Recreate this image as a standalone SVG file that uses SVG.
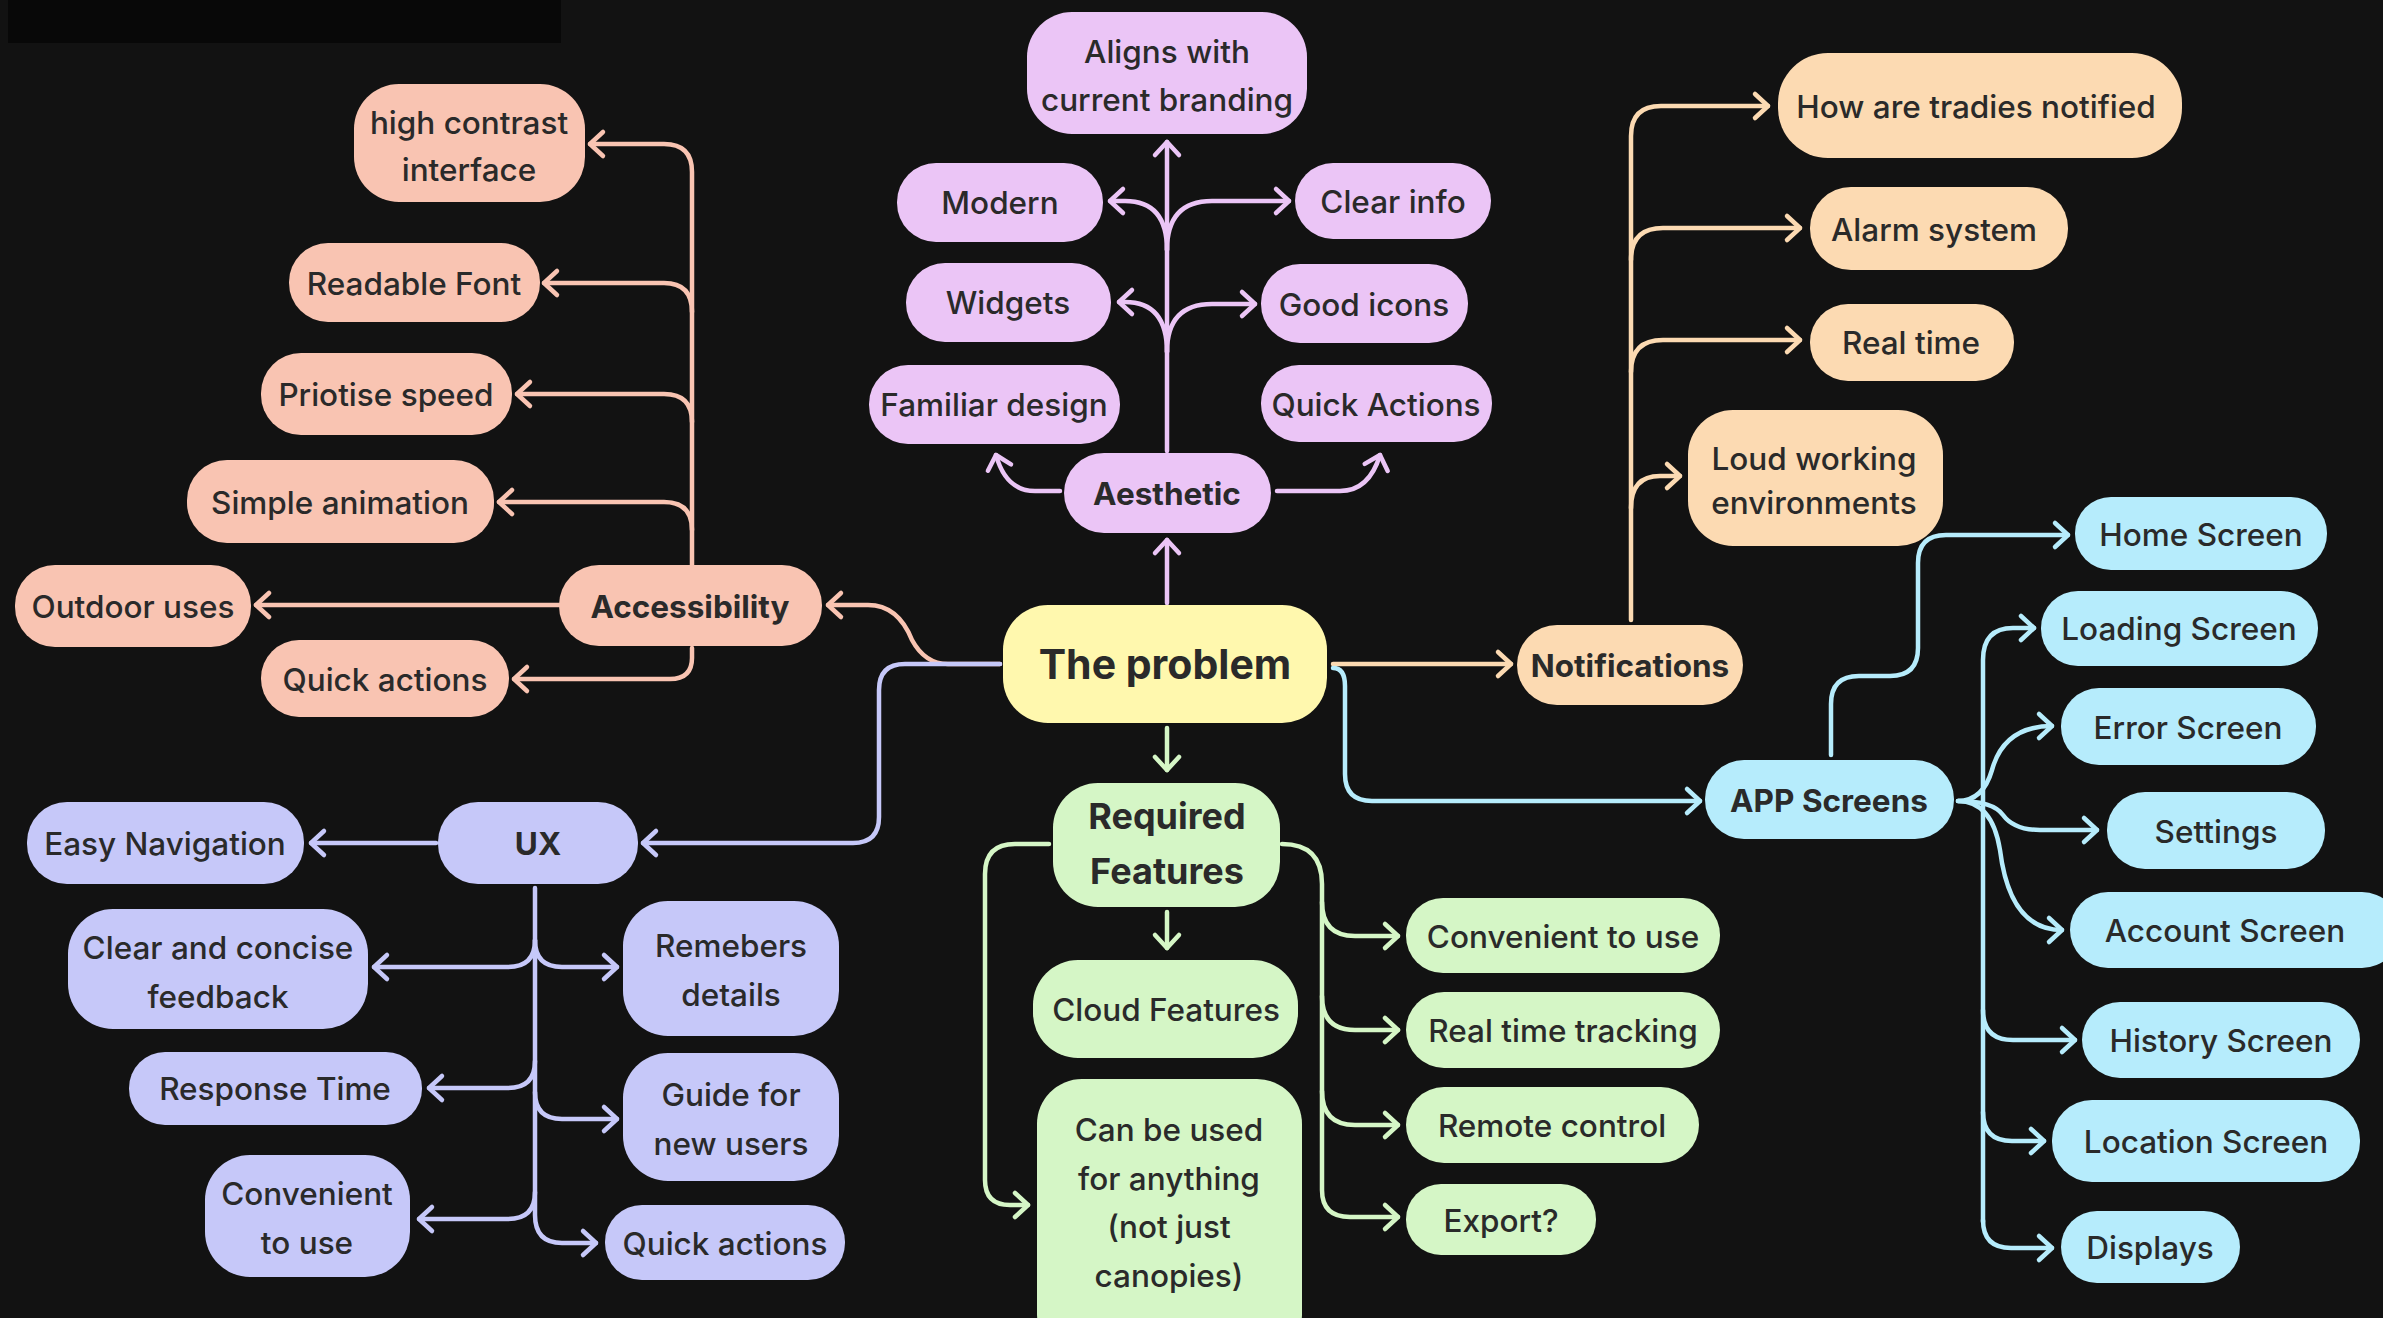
<svg xmlns="http://www.w3.org/2000/svg" width="2383" height="1318" viewBox="0 0 2383 1318">
<defs>
<style>
text{font-family:Inter,"Noto Sans","Liberation Sans",sans-serif;font-size:31.5px;font-weight:500;fill:#2a2a2a;text-anchor:middle;dominant-baseline:central}
.b{font-weight:700}
.rf{font-size:36px;font-weight:700}
.big{font-size:41px;font-weight:700}
.c{fill:none;stroke-width:4.5;stroke-linecap:round;stroke-linejoin:round}
.acc{fill:#F9C4B2}.aes{fill:#EBC5F6}.not{fill:#FCDAB2}.app{fill:#B6ECFC}.req{fill:#D5F6C6}.ux{fill:#C6C8F9}.pb{fill:#FFF8AE}
.sa{stroke:#F9C4B2;marker-end:url(#ma)}.se{stroke:#EBC5F6;marker-end:url(#me)}.sn{stroke:#FCDAB2;marker-end:url(#mn)}
.sp{stroke:#B6ECFC;marker-end:url(#mp)}.sr{stroke:#D5F6C6;marker-end:url(#mr)}.su{stroke:#C6C8F9;marker-end:url(#mu)}
</style>
<marker id="ma" markerUnits="userSpaceOnUse" markerWidth="30" markerHeight="30" viewBox="0 0 30 30" refX="26" refY="15" orient="auto" overflow="visible"><path d="M13,3 L26,15 L13,27" fill="none" stroke="#F9C4B2" stroke-width="4.5" stroke-linecap="round" stroke-linejoin="round"/></marker>
<marker id="me" markerUnits="userSpaceOnUse" markerWidth="30" markerHeight="30" viewBox="0 0 30 30" refX="26" refY="15" orient="auto" overflow="visible"><path d="M13,3 L26,15 L13,27" fill="none" stroke="#EBC5F6" stroke-width="4.5" stroke-linecap="round" stroke-linejoin="round"/></marker>
<marker id="mn" markerUnits="userSpaceOnUse" markerWidth="30" markerHeight="30" viewBox="0 0 30 30" refX="26" refY="15" orient="auto" overflow="visible"><path d="M13,3 L26,15 L13,27" fill="none" stroke="#FCDAB2" stroke-width="4.5" stroke-linecap="round" stroke-linejoin="round"/></marker>
<marker id="mp" markerUnits="userSpaceOnUse" markerWidth="30" markerHeight="30" viewBox="0 0 30 30" refX="26" refY="15" orient="auto" overflow="visible"><path d="M13,3 L26,15 L13,27" fill="none" stroke="#B6ECFC" stroke-width="4.5" stroke-linecap="round" stroke-linejoin="round"/></marker>
<marker id="mr" markerUnits="userSpaceOnUse" markerWidth="30" markerHeight="30" viewBox="0 0 30 30" refX="26" refY="15" orient="auto" overflow="visible"><path d="M13,3 L26,15 L13,27" fill="none" stroke="#D5F6C6" stroke-width="4.5" stroke-linecap="round" stroke-linejoin="round"/></marker>
<marker id="mu" markerUnits="userSpaceOnUse" markerWidth="30" markerHeight="30" viewBox="0 0 30 30" refX="26" refY="15" orient="auto" overflow="visible"><path d="M13,3 L26,15 L13,27" fill="none" stroke="#C6C8F9" stroke-width="4.5" stroke-linecap="round" stroke-linejoin="round"/></marker>
</defs>
<rect width="2383" height="1318" fill="#121212"/>
<rect x="8" y="0" width="553" height="43" fill="#080808"/>

<g id="connectors">
<!-- Accessibility -->
<path class="c sa" d="M692,565 L692,172 Q692,144 664,144 L590,144"/>
<path class="c sa" d="M692,312 Q692,283 664,283 L544,283"/>
<path class="c sa" d="M692,422 Q692,394 664,394 L517,394"/>
<path class="c sa" d="M692,530 Q692,502 664,502 L499,502"/>
<path class="c sa" d="M559,605 L256,605"/>
<path class="c sa" d="M692,648 L692,658 Q692,679 670,679 L514,679"/>
<path class="c sa" d="M1000,664 L948,664 Q925,664 912,640 Q898,605 868,605 L828,605"/>
<!-- UX -->
<path class="c su" d="M1000,664 L905,664 Q879,664 879,690 L879,817 Q879,843 853,843 L643,843"/>
<path class="c su" d="M436,843 L311,843"/>
<path class="c su" d="M535,888 L535,1215 Q535,1243 562,1243 L596,1243"/>
<path class="c su" d="M535,940 Q535,967 508,967 L374,967"/>
<path class="c su" d="M535,940 Q535,967 562,967 L617,967"/>
<path class="c su" d="M535,1061 Q535,1088 508,1088 L429,1088"/>
<path class="c su" d="M535,1092 Q535,1119 562,1119 L617,1119"/>
<path class="c su" d="M535,1192 Q535,1219 508,1219 L419,1219"/>
<!-- Aesthetic -->
<path class="c se" d="M1167,603 L1167,540"/>
<path class="c se" d="M1167,451 L1167,142"/>
<path class="c se" d="M1167,250 Q1167,201 1125,201 L1110,201"/>
<path class="c se" d="M1167,250 Q1167,201 1212,201 L1289,201"/>
<path class="c se" d="M1167,352 Q1167,302 1125,302 L1119,302"/>
<path class="c se" d="M1167,352 Q1167,304 1212,304 L1255,304"/>
<path class="c se" d="M1060,491 L1035,491 Q1006,491 996,455"/>
<path class="c se" d="M1277,491 L1340,491 Q1369,491 1380,455"/>
<!-- Notifications -->
<path class="c sn" d="M1333,664 L1511,664"/>
<path class="c sn" d="M1631,620 L1631,136 Q1631,106 1661,106 L1768,106"/>
<path class="c sn" d="M1631,260 Q1631,228 1663,228 L1800,228"/>
<path class="c sn" d="M1631,372 Q1631,340 1663,340 L1800,340"/>
<path class="c sn" d="M1631,508 Q1631,476 1660,476 L1680,476"/>
<!-- APP Screens -->
<path class="c sp" d="M1333,668 Q1345,668 1345,686 L1345,774 Q1345,801 1372,801 L1700,801"/>
<path class="c sp" d="M1831,755 L1831,704 Q1831,676 1859,676 L1890,676 Q1918,676 1918,648 L1918,563 Q1918,535 1946,535 L2068,535"/>
<path class="c sp" d="M1983,1222 L1983,660 Q1983,628 2013,628 L2034,628"/>
<path class="c sp" d="M1983,1220 Q1983,1248 2011,1248 L2052,1248"/>
<path class="c sp" d="M1958,801 Q1983,801 1992,770 Q2004,726 2052,726"/>
<path class="c sp" d="M1958,801 Q1993,801 2003,815 Q2014,830 2040,830 L2097,830"/>
<path class="c sp" d="M1958,801 Q1992,801 2000,850 Q2010,930 2062,930"/>
<path class="c sp" d="M1983,1010 Q1983,1040 2013,1040 L2075,1040"/>
<path class="c sp" d="M1983,1112 Q1983,1141 2012,1141 L2044,1141"/>
<!-- Required Features -->
<path class="c sr" d="M1167,728 L1167,770"/>
<path class="c sr" d="M1167,912 L1167,948"/>
<path class="c sr" d="M1049,844 L1015,844 Q985,844 985,874 L985,1180 Q985,1205 1010,1205 L1028,1205"/>
<path class="c sr" d="M1282,844 Q1322,844 1322,884 L1322,1190 Q1322,1217 1350,1217 L1398,1217"/>
<path class="c sr" d="M1322,902 Q1322,936 1355,936 L1398,936"/>
<path class="c sr" d="M1322,996 Q1322,1030 1355,1030 L1398,1030"/>
<path class="c sr" d="M1322,1091 Q1322,1125 1355,1125 L1398,1125"/>
</g>

<g id="problem"><rect class="pb" x="1003" y="605" width="324" height="118" rx="45"/><text class="big" x="1165" y="664">The problem</text></g>

<g id="accessibility"><rect class="acc" x="559" y="565" width="263" height="81" rx="40"/><text class="b" x="690" y="606">Accessibility</text></g>
<g id="high-contrast"><rect class="acc" x="354" y="84" width="231" height="118" rx="45"/><text x="469" y="122">high contrast</text><text x="469" y="169">interface</text></g>
<g id="readable-font"><rect class="acc" x="289" y="243" width="251" height="79" rx="39"/><text x="414" y="283">Readable Font</text></g>
<g id="priotise-speed"><rect class="acc" x="261" y="353" width="251" height="82" rx="40"/><text x="386" y="394">Priotise speed</text></g>
<g id="simple-animation"><rect class="acc" x="187" y="460" width="307" height="83" rx="40"/><text x="340" y="502">Simple animation</text></g>
<g id="outdoor-uses"><rect class="acc" x="15" y="565" width="236" height="82" rx="40"/><text x="133" y="606">Outdoor uses</text></g>
<g id="quick-actions-acc"><rect class="acc" x="261" y="640" width="248" height="77" rx="38"/><text x="385" y="679">Quick actions</text></g>

<g id="aesthetic"><rect class="aes" x="1064" y="453" width="207" height="80" rx="40"/><text class="b" x="1167" y="493">Aesthetic</text></g>
<g id="aligns"><rect class="aes" x="1027" y="12" width="280" height="122" rx="45"/><text x="1167" y="51">Aligns with</text><text x="1167" y="99">current branding</text></g>
<g id="modern"><rect class="aes" x="897" y="163" width="206" height="79" rx="39"/><text x="1000" y="202">Modern</text></g>
<g id="clear-info"><rect class="aes" x="1295" y="163" width="196" height="76" rx="38"/><text x="1393" y="201">Clear info</text></g>
<g id="widgets"><rect class="aes" x="906" y="263" width="205" height="79" rx="39"/><text x="1008" y="302">Widgets</text></g>
<g id="good-icons"><rect class="aes" x="1261" y="264" width="207" height="79" rx="39"/><text x="1364" y="304">Good icons</text></g>
<g id="familiar-design"><rect class="aes" x="869" y="365" width="251" height="79" rx="39"/><text x="994" y="404">Familiar design</text></g>
<g id="quick-actions-aes"><rect class="aes" x="1261" y="365" width="231" height="77" rx="38"/><text x="1376" y="404">Quick Actions</text></g>

<g id="notifications"><rect class="not" x="1517" y="625" width="226" height="80" rx="40"/><text class="b" x="1630" y="665">Notifications</text></g>
<g id="how-notified"><rect class="not" x="1778" y="53" width="404" height="105" rx="50"/><text x="1976" y="106">How are tradies notified</text></g>
<g id="alarm-system"><rect class="not" x="1810" y="187" width="258" height="83" rx="41"/><text x="1934" y="229">Alarm system</text></g>
<g id="real-time"><rect class="not" x="1810" y="304" width="204" height="77" rx="38"/><text x="1911" y="342">Real time</text></g>
<g id="loud"><rect class="not" x="1688" y="410" width="255" height="136" rx="45"/><text x="1814" y="458">Loud working</text><text x="1814" y="502">environments</text></g>

<g id="app-screens"><rect class="app" x="1705" y="760" width="249" height="79" rx="39"/><text class="b" x="1829" y="800">APP Screens</text></g>
<g id="home-screen"><rect class="app" x="2075" y="497" width="252" height="73" rx="36"/><text x="2201" y="534">Home Screen</text></g>
<g id="loading-screen"><rect class="app" x="2041" y="591" width="277" height="75" rx="37"/><text x="2179" y="628">Loading Screen</text></g>
<g id="error-screen"><rect class="app" x="2061" y="688" width="255" height="77" rx="38"/><text x="2188" y="727">Error Screen</text></g>
<g id="settings"><rect class="app" x="2107" y="792" width="218" height="77" rx="38"/><text x="2216" y="831">Settings</text></g>
<g id="account-screen"><rect class="app" x="2070" y="892" width="330" height="76" rx="38"/><text x="2225" y="930">Account Screen</text></g>
<g id="history-screen"><rect class="app" x="2082" y="1002" width="278" height="76" rx="38"/><text x="2221" y="1040">History Screen</text></g>
<g id="location-screen"><rect class="app" x="2052" y="1100" width="308" height="82" rx="40"/><text x="2206" y="1141">Location Screen</text></g>
<g id="displays"><rect class="app" x="2061" y="1211" width="179" height="72" rx="36"/><text x="2150" y="1247">Displays</text></g>

<g id="required-features"><rect class="req" x="1053" y="783" width="227" height="124" rx="45"/><text class="rf" x="1167" y="816">Required</text><text class="rf" x="1167" y="871">Features</text></g>
<g id="cloud-features"><rect class="req" x="1033" y="960" width="265" height="98" rx="45"/><text x="1166" y="1009">Cloud Features</text></g>
<g id="can-be-used"><rect class="req" x="1037" y="1079" width="265" height="280" rx="45"/><text x="1169" y="1129">Can be used</text><text x="1169" y="1178">for anything</text><text x="1169" y="1226">(not just</text><text x="1169" y="1275">canopies)</text></g>
<g id="convenient-req"><rect class="req" x="1406" y="898" width="314" height="75" rx="37"/><text x="1563" y="936">Convenient to use</text></g>
<g id="real-time-tracking"><rect class="req" x="1406" y="992" width="314" height="76" rx="38"/><text x="1563" y="1030">Real time tracking</text></g>
<g id="remote-control"><rect class="req" x="1406" y="1087" width="293" height="76" rx="38"/><text x="1552" y="1125">Remote control</text></g>
<g id="export"><rect class="req" x="1406" y="1184" width="190" height="71" rx="35"/><text x="1501" y="1220">Export?</text></g>

<g id="ux"><rect class="ux" x="438" y="802" width="200" height="82" rx="40"/><text class="b" x="538" y="843">UX</text></g>
<g id="easy-navigation"><rect class="ux" x="27" y="802" width="277" height="82" rx="40"/><text x="165" y="843">Easy Navigation</text></g>
<g id="clear-concise"><rect class="ux" x="68" y="909" width="300" height="120" rx="45"/><text x="218" y="947">Clear and concise</text><text x="218" y="996">feedback</text></g>
<g id="remebers"><rect class="ux" x="623" y="901" width="216" height="135" rx="45"/><text x="731" y="945">Remebers</text><text x="731" y="994">details</text></g>
<g id="response-time"><rect class="ux" x="129" y="1052" width="293" height="73" rx="36"/><text x="275" y="1088">Response Time</text></g>
<g id="guide"><rect class="ux" x="623" y="1053" width="216" height="128" rx="45"/><text x="731" y="1094">Guide for</text><text x="731" y="1143">new users</text></g>
<g id="convenient-ux"><rect class="ux" x="205" y="1155" width="205" height="122" rx="45"/><text x="307" y="1193">Convenient</text><text x="307" y="1242">to use</text></g>
<g id="quick-actions-ux"><rect class="ux" x="605" y="1205" width="240" height="75" rx="37"/><text x="725" y="1243">Quick actions</text></g>
</svg>
